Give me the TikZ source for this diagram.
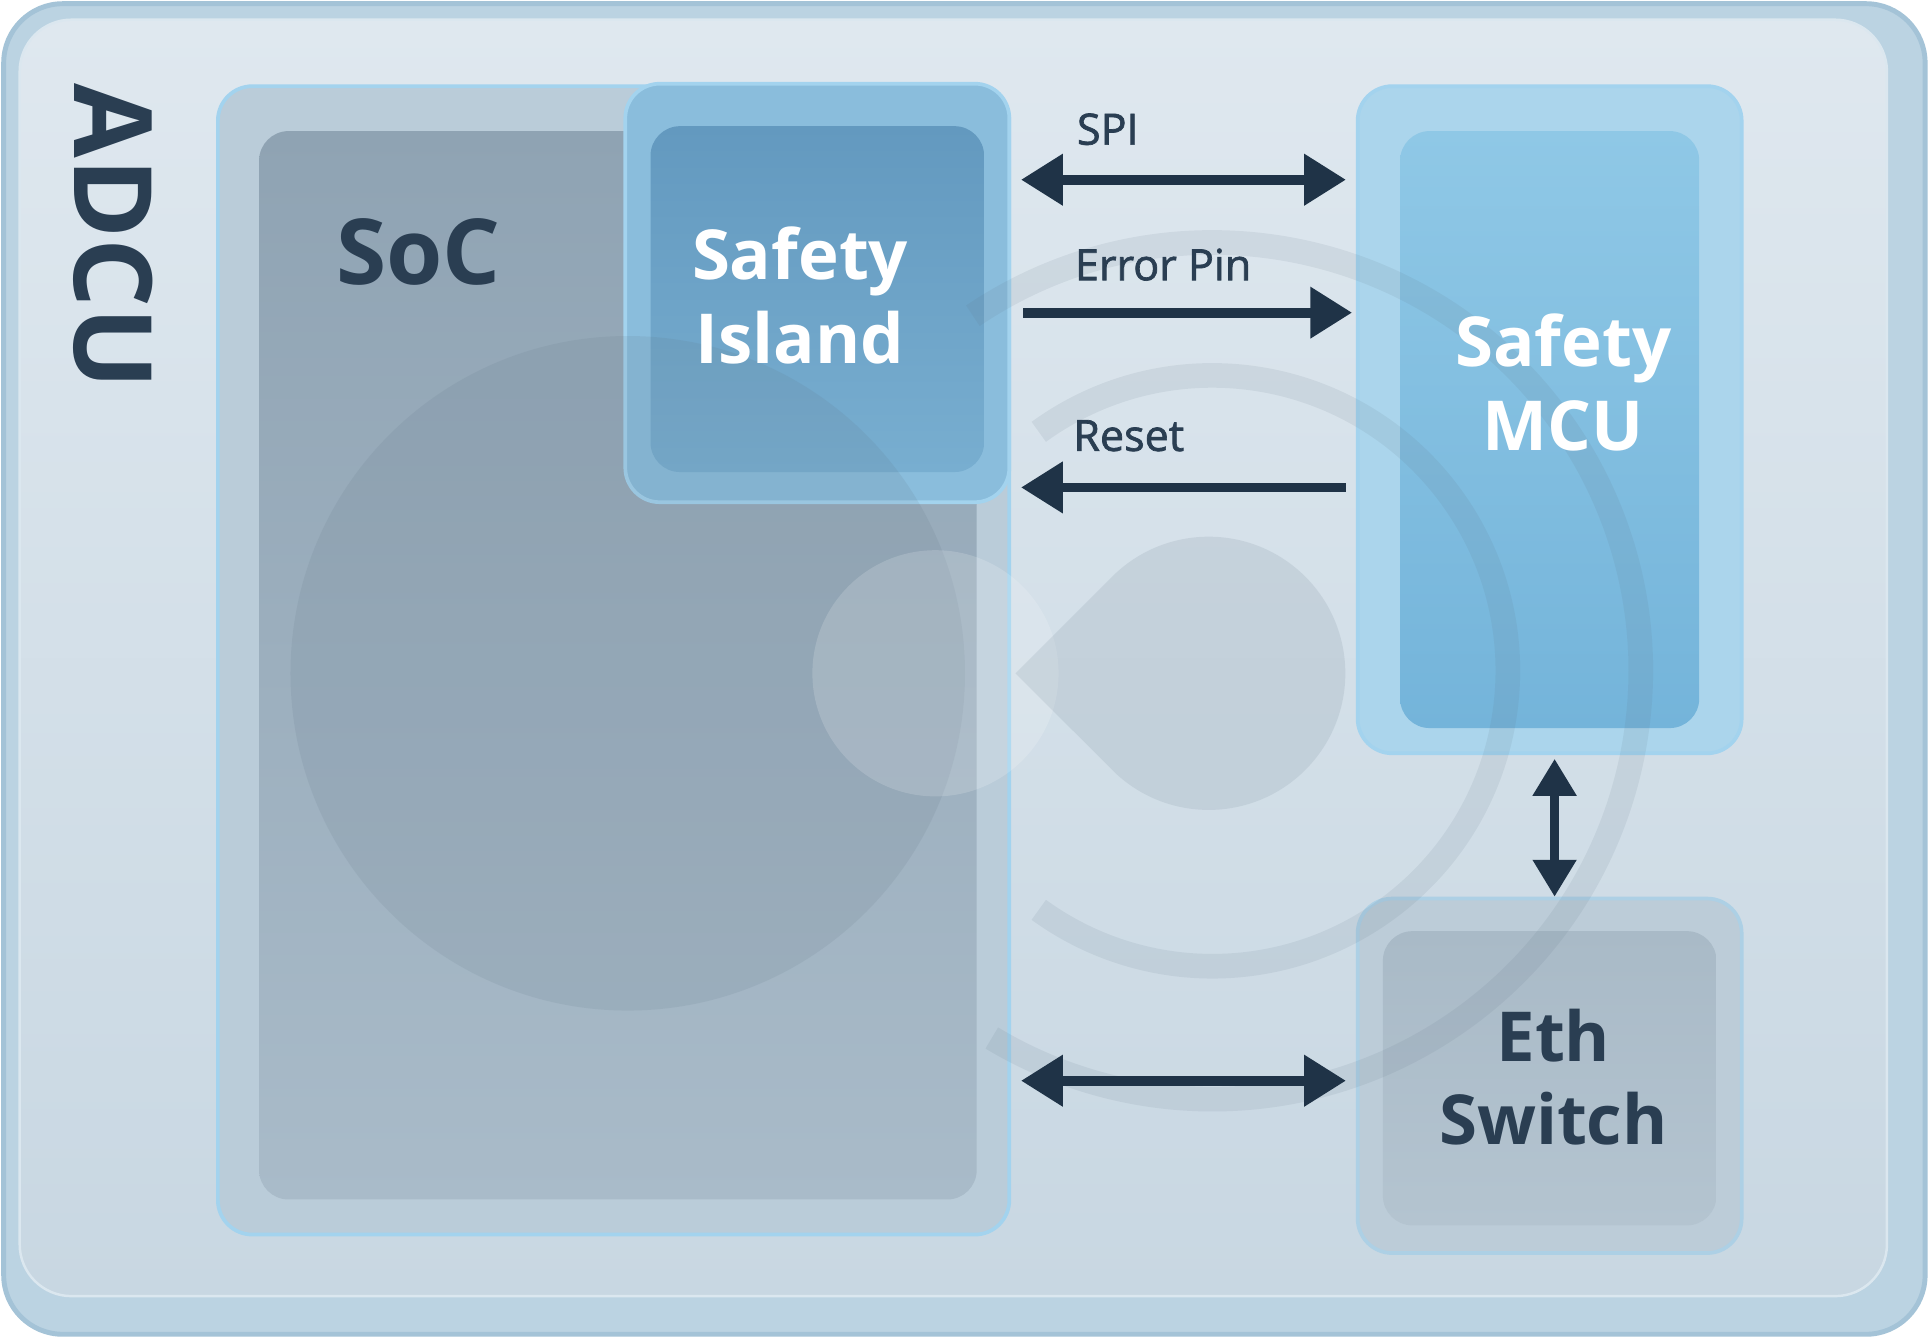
\documentclass[tikz,border=0pt]{standalone}
\usepackage{fontspec}
\setmainfont{Open Sans}
\newfontfamily\lblfont[FakeBold=1.6]{Open Sans}
\usetikzlibrary{arrows.meta,calc}
\definecolor{arrowc}{HTML}{1F3347}
\definecolor{txtd}{HTML}{2A3E52}
\definecolor{boardA}{HTML}{DFE8EF}
\definecolor{boardB}{HTML}{C8D7E2}
\definecolor{rim}{HTML}{A4C3D7}
\definecolor{rimout}{HTML}{BBD3E2}
\definecolor{socout}{HTML}{BACCD9}
\definecolor{socinA}{HTML}{8FA3B3}
\definecolor{socinB}{HTML}{A9BBC9}
\definecolor{siout}{HTML}{8ABDDC}
\definecolor{siinA}{HTML}{6399BF}
\definecolor{siinB}{HTML}{78AED0}
\definecolor{mcuout}{HTML}{ABD5EC}
\definecolor{mcuinA}{HTML}{8FC8E6}
\definecolor{mcuinB}{HTML}{74B4DA}
\definecolor{ethout}{HTML}{BCCCD8}
\definecolor{ethinA}{HTML}{A9BAC7}
\definecolor{ethinB}{HTML}{B4C4D0}
\definecolor{edge}{HTML}{A3D3EE}
\definecolor{wmc}{HTML}{5E7283}
\begin{document}
\begin{tikzpicture}[x=1pt,y=-1pt,
  boardbox/.style={rectangle, rounded corners=48pt, draw=rim, line width=4pt, fill=rimout},
  glass/.style={rectangle, rounded corners=28pt, draw=edge, line width=3pt},
  inset/.style={rounded corners=24pt},
  boxtxt/.style={align=center, font=\fontsize{56}{68}\selectfont\bfseries},
  lbl/.style={text=txtd, font=\fontsize{35}{40}\lblfont},
  wm/.style={fill=wmc, fill opacity=0.13},
  wmarc/.style={draw=wmc, draw opacity=0.11, line width=20pt},
  arr/.style={draw=arrowc, line width=8pt, -{Triangle[length=34pt,width=40pt]}},
  dbl/.style={draw=arrowc, line width=8pt, {Triangle[length=34pt,width=40pt]}-{Triangle[length=34pt,width=40pt]}},
  vdbl/.style={draw=arrowc, line width=7pt, {Triangle[length=30pt,width=34pt]}-{Triangle[length=30pt,width=34pt]}}
]
\useasboundingbox (0,0) rectangle (1568,1090);
\fill[white] (0,0) rectangle (1568,1090);

% ADCU board
\node[boardbox, minimum width=1561pt, minimum height=1081pt] (adcu) at (783.5,543.5) {};
\shade[top color=boardA, bottom color=boardB, rounded corners=42pt, draw=white!60!rim, line width=2pt]
  ([shift={(15,15)}]adcu.north west) rectangle ([shift={(-33,-33)}]adcu.south east);
\node[text=txtd, rotate=-90, font=\fontsize{88}{90}\selectfont\bfseries] (adcul) at (92,192) {ADCU};

% SoC
\node[glass, fill=socout, minimum width=643pt, minimum height=933pt] (soc) at (498.5,536.5) {};
\shade[inset, top color=socinA, bottom color=socinB]
  ([shift={(35,38)}]soc.north west) rectangle ([shift={(-28,-30)}]soc.south east);

% Safety Island
\node[glass, fill=siout, minimum width=312pt, minimum height=340pt] (si) at (664,238) {};
\shade[inset, top color=siinA, bottom color=siinB]
  ([shift={(22,36)}]si.north west) rectangle ([shift={(-22,-26)}]si.south east);

% Safety MCU
\node[glass, fill=mcuout, minimum width=312pt, minimum height=542pt] (mcu) at (1259,341) {};
\shade[inset, top color=mcuinA, bottom color=mcuinB]
  ([shift={(36,38)}]mcu.north west) rectangle ([shift={(-36,-22)}]mcu.south east);

% Eth Switch
\node[glass, fill=ethout, draw=edge!60!ethout, minimum width=312pt, minimum height=288pt] (eth) at (1259,874) {};
\shade[inset, top color=ethinA, bottom color=ethinB]
  ([shift={(22,28)}]eth.north west) rectangle ([shift={(-22,-24)}]eth.south east);

% watermark
\fill[wm] (510,547) circle[radius=274];
\fill[white, fill opacity=0.16] (760,547) circle[radius=100];
\fill[wm] (825,547) -- ([shift={(133.4:111)}]982,547) arc[start angle=133.4, end angle=-133.4, radius=111] -- cycle;
\draw[wmarc] ([shift={(-126:240)}]985,545) arc[start angle=-126, end angle=126, radius=240];
\draw[wmarc] ([shift={(-124:348)}]985,545) arc[start angle=-124, end angle=121, radius=348];

% texts
\node[boxtxt, text=txtd, font=\fontsize{74}{80}\selectfont\bfseries] (socl) at (340,205) {SoC};
\node[boxtxt, text=white] (sil) at (650,240) {Safety\\Island};
\node[boxtxt, text=white] (mcul) at (1270,311) {Safety\\MCU};
\node[boxtxt, text=txtd] (ethl) at (1262,875) {Eth\\Switch};

% connectors
\draw[dbl, shorten <=8pt, shorten >=8pt] ([yshift=92pt]si.east) -- ([yshift=195pt]mcu.west);
\node[lbl] (spil) at (900,105) {SPI};
\draw[arr, shorten <=10pt, shorten >=3pt] ([yshift=-16pt]si.east) -- ([yshift=87pt]mcu.west);
\node[lbl] (errl) at (945,215) {Error Pin};
\draw[arr, shorten <=8pt, shorten >=8pt] ([yshift=-55pt]mcu.west) -- ([yshift=-158pt]si.east);
\node[lbl] (rstl) at (917,354) {Reset};
\draw[vdbl, shorten <=3pt] ([xshift=4pt]mcu.south) -- ([xshift=4pt]eth.north);
\draw[dbl, shorten <=8pt, shorten >=8pt] ([yshift=-341.5pt]soc.east) -- ([yshift=-4pt]eth.west);
\end{tikzpicture}
\end{document}
